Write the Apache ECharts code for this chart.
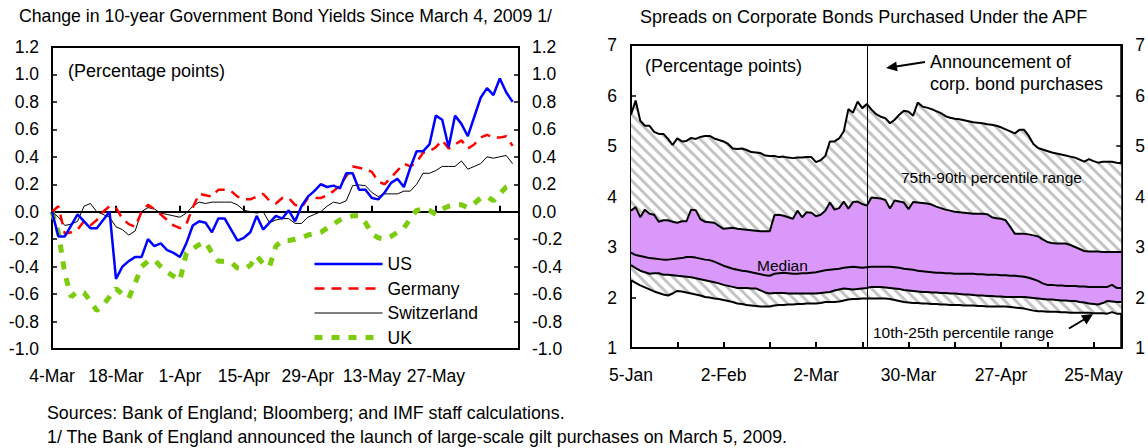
<!DOCTYPE html>
<html>
<head>
<meta charset="utf-8">
<script src="https://cdn.jsdelivr.net/npm/echarts@6.0.0/dist/echarts.min.js"></script>
<style>
html,body{margin:0;padding:0;background:#fff;}
#chart{width:1148px;height:448px;}
</style>
</head>
<body>
<div id="chart"></div>
<script>
// ---------- DATA ----------
const leftTickLabels = ['4-Mar','18-Mar','1-Apr','15-Apr','29-Apr','13-May','27-May'];
const rightTickLabels = ['5-Jan','2-Feb','2-Mar','30-Mar','27-Apr','25-May'];

const usValues = [0,-0.18,-0.18,-0.10,-0.02,-0.07,-0.12,-0.12,-0.06,0.00,
 -0.49,-0.40,-0.36,-0.33,-0.33,-0.20,-0.25,-0.23,-0.28,-0.30,
 -0.33,-0.23,-0.10,-0.07,-0.08,-0.15,-0.05,-0.05,-0.13,-0.21,
 -0.19,-0.15,-0.03,-0.13,-0.08,-0.03,-0.05,0.01,-0.07,0.04,
 0.11,0.15,0.20,0.18,0.19,0.17,0.28,0.28,0.16,0.16,
 0.10,0.09,0.14,0.21,0.24,0.18,0.32,0.44,0.44,0.49,
 0.70,0.67,0.47,0.70,0.64,0.55,0.69,0.83,0.90,0.85,
 0.97,0.87,0.80];
const germanyValues = [0.0,0.04,-0.16,-0.15,-0.13,-0.07,-0.10,-0.06,0.00,0.04,
 0.03,-0.05,-0.09,-0.11,0.0,0.05,0.02,-0.02,-0.06,-0.10,
 -0.12,-0.09,0.03,0.13,0.12,0.11,0.16,0.16,0.15,0.11,
 0.09,0.09,0.11,0.13,0.08,0.06,0.10,0.10,0.05,0.03,
 0.10,0.10,0.10,0.12,0.15,0.19,0.26,0.33,0.32,0.31,
 0.29,0.22,0.20,0.25,0.30,0.35,0.33,0.36,0.43,0.44,
 0.47,0.52,0.46,0.49,0.52,0.46,0.49,0.54,0.56,0.54,
 0.54,0.55,0.48];
const switzerlandValues = [0,-0.04,-0.10,-0.09,-0.07,0.04,0.06,0.0,-0.02,-0.04,
 -0.11,-0.13,-0.17,-0.14,0.0,0.03,0.02,-0.01,-0.02,-0.03,
 -0.04,-0.01,0.04,0.07,0.06,0.07,0.07,0.07,0.07,0.05,
 0.01,0.0,-0.01,0.0,-0.08,-0.06,-0.05,-0.05,-0.085,-0.085,
 -0.04,-0.02,0.0,0.04,0.07,0.06,0.08,0.19,0.195,0.19,
 0.14,0.11,0.13,0.13,0.13,0.15,0.15,0.20,0.28,0.28,
 0.30,0.33,0.33,0.33,0.37,0.31,0.33,0.35,0.40,0.39,
 0.40,0.41,0.35];
const ukValues = [0.0,-0.15,-0.45,-0.62,-0.58,-0.59,-0.65,-0.72,-0.68,-0.62,
 -0.56,-0.60,-0.63,-0.52,-0.40,-0.36,-0.35,-0.40,-0.44,-0.47,
 -0.50,-0.30,-0.27,-0.24,-0.22,-0.30,-0.36,-0.36,-0.37,-0.41,
 -0.42,-0.39,-0.32,-0.38,-0.40,-0.25,-0.21,-0.21,-0.20,-0.19,
 -0.17,-0.16,-0.15,-0.12,-0.09,-0.06,-0.04,-0.03,-0.03,-0.08,
 -0.16,-0.19,-0.20,-0.18,-0.15,-0.12,-0.05,0.01,0.02,0.01,
 -0.02,0.02,0.04,0.05,0.05,0.03,0.06,0.10,0.11,0.08,
 0.13,0.18,0.20];

const p90 = [5.62,5.90,5.50,5.40,5.40,5.28,5.24,5.24,5.14,5.02,
 5.15,5.09,5.10,5.16,5.14,5.18,5.20,5.20,5.15,5.12,
 5.09,5.04,4.95,4.94,4.95,4.92,4.88,4.87,4.86,4.81,
 4.80,4.80,4.78,4.79,4.77,4.76,4.77,4.77,4.78,4.78,
 4.68,4.72,4.80,5.09,5.09,5.15,5.29,5.73,5.66,5.88,
 5.75,5.83,5.72,5.63,5.58,5.55,5.45,5.52,5.62,5.70,
 5.68,5.60,5.86,5.78,5.76,5.73,5.69,5.65,5.59,5.56,
 5.54,5.53,5.51,5.49,5.47,5.46,5.45,5.43,5.42,5.40,
 5.37,5.33,5.29,5.25,5.32,5.32,5.20,5.04,4.96,4.93,
 4.90,4.87,4.85,4.83,4.81,4.79,4.77,4.73,4.69,4.74,
 4.70,4.67,4.69,4.69,4.69,4.67,4.66];
const p75 = [3.72,3.79,3.59,3.74,3.66,3.64,3.50,3.53,3.53,3.50,
 3.48,3.51,3.51,3.74,3.73,3.55,3.50,3.49,3.48,3.42,
 3.36,3.37,3.38,3.36,3.35,3.34,3.33,3.32,3.31,3.31,
 3.31,3.63,3.64,3.62,3.59,3.56,3.72,3.59,3.69,3.68,
 3.61,3.64,3.72,3.88,3.74,3.77,3.90,3.76,3.89,3.90,
 3.85,3.82,3.98,3.97,3.96,3.93,3.76,3.92,3.90,3.88,
 3.75,3.89,3.88,3.87,3.86,3.84,3.80,3.77,3.74,3.72,
 3.70,3.69,3.68,3.67,3.66,3.66,3.66,3.65,3.59,3.57,
 3.56,3.53,3.40,3.26,3.26,3.26,3.25,3.23,3.21,3.15,
 3.10,3.08,3.07,3.07,3.07,3.04,3.00,2.96,2.92,2.91,
 2.91,2.91,2.90,2.90,2.90,2.90,2.90];
const median = [2.89,2.84,2.82,2.80,2.78,2.77,2.76,2.75,2.75,2.76,
 2.77,2.78,2.80,2.80,2.79,2.77,2.75,2.74,2.71,2.67,
 2.63,2.60,2.57,2.55,2.53,2.52,2.50,2.48,2.46,2.44,
 2.43,2.47,2.48,2.49,2.48,2.47,2.47,2.48,2.48,2.49,
 2.50,2.52,2.54,2.55,2.56,2.57,2.59,2.60,2.61,2.60,
 2.59,2.60,2.61,2.61,2.61,2.61,2.61,2.60,2.59,2.57,
 2.56,2.55,2.53,2.52,2.51,2.50,2.49,2.49,2.48,2.48,
 2.47,2.47,2.47,2.47,2.47,2.46,2.46,2.45,2.45,2.45,
 2.44,2.44,2.43,2.43,2.42,2.41,2.39,2.36,2.33,2.28,
 2.25,2.25,2.24,2.24,2.23,2.23,2.23,2.22,2.22,2.21,
 2.21,2.21,2.21,2.21,2.25,2.19,2.19];
const p25 = [2.64,2.58,2.53,2.50,2.47,2.48,2.48,2.45,2.45,2.44,
 2.43,2.42,2.41,2.40,2.38,2.36,2.34,2.32,2.30,2.28,
 2.25,2.23,2.21,2.19,2.19,2.19,2.18,2.18,2.14,2.10,
 2.08,2.09,2.09,2.09,2.08,2.08,2.08,2.08,2.08,2.08,
 2.08,2.09,2.10,2.11,2.14,2.16,2.18,2.17,2.16,2.17,
 2.18,2.19,2.21,2.21,2.21,2.20,2.19,2.18,2.17,2.15,
 2.14,2.13,2.12,2.11,2.11,2.10,2.10,2.09,2.09,2.08,
 2.08,2.07,2.06,2.06,2.05,2.04,2.04,2.03,2.03,2.02,
 2.02,2.01,2.01,2.01,2.01,2.01,2.00,1.99,1.98,1.97,
 1.96,1.96,1.95,1.94,1.94,1.93,1.93,1.91,1.90,1.88,
 1.87,1.86,1.89,1.93,1.92,1.91,1.91];
const p10 = [2.34,2.29,2.24,2.20,2.16,2.12,2.09,2.06,2.04,2.08,
 2.13,2.12,2.10,2.08,2.06,2.04,2.01,2.00,1.98,1.97,
 1.95,1.93,1.91,1.88,1.87,1.85,1.84,1.83,1.82,1.82,
 1.82,1.84,1.85,1.85,1.86,1.86,1.87,1.87,1.88,1.88,
 1.88,1.89,1.91,1.91,1.91,1.92,1.94,1.96,1.97,1.97,
 1.98,1.98,1.98,1.98,1.98,1.98,1.97,1.95,1.93,1.91,
 1.90,1.89,1.89,1.88,1.88,1.87,1.87,1.86,1.86,1.85,
 1.85,1.85,1.84,1.84,1.84,1.83,1.83,1.82,1.82,1.82,
 1.82,1.82,1.81,1.80,1.79,1.78,1.76,1.74,1.73,1.73,
 1.72,1.72,1.72,1.71,1.71,1.70,1.70,1.70,1.70,1.70,
 1.69,1.69,1.69,1.68,1.71,1.68,1.68];
const announcementDate = '17-Mar';

// ---------- CATEGORIES (business days) ----------
const MONTHS = ['Jan','Feb','Mar','Apr','May','Jun','Jul','Aug','Sep','Oct','Nov','Dec'];
function businessDays(y, m, d, n) {
  const out = [];
  const dt = new Date(Date.UTC(y, m, d));
  while (out.length < n) {
    const w = dt.getUTCDay();
    if (w !== 0 && w !== 6) out.push(dt.getUTCDate() + '-' + MONTHS[dt.getUTCMonth()]);
    dt.setUTCDate(dt.getUTCDate() + 1);
  }
  return out;
}
const leftCategories = businessDays(2009, 2, 4, 74);
const rightCategories = businessDays(2009, 0, 5, 107);

// ---------- STYLE ----------
const FONT = '"Liberation Sans", Arial, Helvetica, sans-serif';
const PURPLE = '#DA98FB';

function hatch() {
  const s = 11;
  const c = document.createElement('canvas');
  c.width = s; c.height = s;
  const g = c.getContext('2d');
  g.fillStyle = '#ffffff';
  g.fillRect(0, 0, s, s);
  g.strokeStyle = '#c4c4c4';
  g.lineWidth = 3;
  g.beginPath();
  g.moveTo(-3, -3); g.lineTo(s + 3, s + 3);
  g.moveTo(-3, s - 3); g.lineTo(3, s + 3);
  g.moveTo(s - 3, -3); g.lineTo(s + 3, 3);
  g.stroke();
  return { image: c, repeat: 'repeat' };
}
const HATCH = hatch();

const diff = (a, b) => a.map((v, i) => +(v - b[i]).toFixed(3));

const axisLabelStyle = { color: '#000', fontSize: 17.5, fontFamily: FONT };
const blackLine = { show: true, lineStyle: { color: '#000', width: 2 } };

function fmt1(v) { return Math.abs(v) < 1e-9 ? '0.0' : Number(v).toFixed(1); }

const chart = echarts.init(document.getElementById('chart'), null, { renderer: 'svg' });

const option = {
  animation: false,
  backgroundColor: '#fff',
  textStyle: { fontFamily: FONT, color: '#000' },
  grid: [
    { left: 52, right: 629, top: 47, bottom: 99, show: true, borderColor: '#000', borderWidth: 2, backgroundColor: 'transparent' },
    { left: 631, right: 25, top: 45, bottom: 100, show: true, borderColor: '#000', borderWidth: 2, backgroundColor: 'transparent' }
  ],
  xAxis: [
    { type: 'category', gridIndex: 0, data: leftCategories, boundaryGap: false, position: 'bottom',
      axisLine: { show: false, onZero: false }, axisTick: { show: false }, splitLine: { show: false },
      axisLabel: Object.assign({ interval: 9, margin: 18, formatter: v => leftTickLabels.indexOf(v) >= 0 ? v : '' }, axisLabelStyle) },
    { type: 'category', gridIndex: 0, data: leftCategories, boundaryGap: false, position: 'top',
      axisLine: { show: true, onZero: true, lineStyle: { color: '#000', width: 2 } },
      axisTick: { show: true, interval: 9, length: 6, lineStyle: { color: '#000', width: 2 } },
      axisLabel: { show: false }, splitLine: { show: false } },
    { type: 'category', gridIndex: 1, data: rightCategories, boundaryGap: false, position: 'bottom',
      axisLine: blackLine, axisTick: { show: true, inside: true, interval: 9, length: 6, lineStyle: { color: '#000', width: 2 } },
      splitLine: { show: false },
      axisLabel: Object.assign({ interval: 9, margin: 18, formatter: v => rightTickLabels.indexOf(v) >= 0 ? v : '' }, axisLabelStyle) }
  ],
  yAxis: [
    { type: 'value', gridIndex: 0, position: 'left', min: -1, max: 1.2, interval: 0.2,
      axisLine: blackLine, axisTick: { show: true, inside: true, length: 5, lineStyle: { color: '#000', width: 1.5 } },
      splitLine: { show: false }, axisLabel: Object.assign({ margin: 13, formatter: fmt1 }, axisLabelStyle) },
    { type: 'value', gridIndex: 0, position: 'right', min: -1, max: 1.2, interval: 0.2,
      axisLine: blackLine, axisTick: { show: true, inside: true, length: 5, lineStyle: { color: '#000', width: 1.5 } },
      splitLine: { show: false }, axisLabel: Object.assign({ margin: 13, formatter: fmt1 }, axisLabelStyle) },
    { type: 'value', gridIndex: 1, position: 'left', min: 1, max: 7, interval: 1,
      axisLine: blackLine, axisTick: { show: true, inside: true, length: 5, lineStyle: { color: '#000', width: 1.5 } },
      splitLine: { show: false }, axisLabel: Object.assign({ margin: 14 }, axisLabelStyle) },
    { type: 'value', gridIndex: 1, position: 'right', min: 1, max: 7, interval: 1,
      axisLine: blackLine, axisTick: { show: true, inside: true, length: 5, lineStyle: { color: '#000', width: 1.5 } },
      splitLine: { show: false }, axisLabel: Object.assign({ margin: 14 }, axisLabelStyle) }
  ],
  legend: {
    data: ['US', 'Germany', 'Switzerland', 'UK'],
    orient: 'vertical', left: 312, top: 255, itemWidth: 68, itemHeight: 14, itemGap: 6.5,
    itemStyle: { opacity: 0 },
    lineStyle: { width: 'inherit' },
    textStyle: { fontSize: 17.5, color: '#000', fontFamily: FONT }, padding: 0
  },
  series: [
    { name: 'Switzerland', type: 'line', xAxisIndex: 0, yAxisIndex: 0, data: switzerlandValues, symbol: 'none',
      lineStyle: { color: '#000', width: 1 }, itemStyle: { color: '#000' }, z: 3 },
    { name: 'UK', type: 'line', xAxisIndex: 0, yAxisIndex: 0, data: ukValues, symbol: 'none',
      lineStyle: { color: '#7CCB0C', width: 5, type: [8, 9], cap: 'butt' }, itemStyle: { color: '#7CCB0C' }, z: 2 },
    { name: 'Germany', type: 'line', xAxisIndex: 0, yAxisIndex: 0, data: germanyValues, symbol: 'none',
      lineStyle: { color: '#FF0000', width: 2.5, type: [10, 7] }, itemStyle: { color: '#FF0000' }, z: 4 },
    { name: 'US', type: 'line', xAxisIndex: 0, yAxisIndex: 0, data: usValues, symbol: 'none',
      lineStyle: { color: '#0000FF', width: 2.5 }, itemStyle: { color: '#0000FF' }, z: 5 },

    // right chart: bands (stacked)
    { name: 'base', type: 'line', xAxisIndex: 2, yAxisIndex: 2, stack: 'band', data: p10, symbol: 'none',
      lineStyle: { width: 0, opacity: 0 }, silent: true, z: 1 },
    { name: 'band10_25', type: 'line', xAxisIndex: 2, yAxisIndex: 2, stack: 'band', data: diff(p25, p10), symbol: 'none',
      lineStyle: { width: 0, opacity: 0 }, areaStyle: { color: HATCH, opacity: 1 }, silent: true, z: 1 },
    { name: 'band25_75', type: 'line', xAxisIndex: 2, yAxisIndex: 2, stack: 'band', data: diff(p75, p25), symbol: 'none',
      lineStyle: { width: 0, opacity: 0 }, areaStyle: { color: PURPLE, opacity: 1 }, silent: true, z: 1 },
    { name: 'band75_90', type: 'line', xAxisIndex: 2, yAxisIndex: 2, stack: 'band', data: diff(p90, p75), symbol: 'none',
      lineStyle: { width: 0, opacity: 0 }, areaStyle: { color: HATCH, opacity: 1 }, silent: true, z: 1 },

    { name: '90th', type: 'line', xAxisIndex: 2, yAxisIndex: 2, data: p90, symbol: 'none',
      lineStyle: { color: '#000', width: 2 }, z: 3,
      markLine: { silent: true, symbol: 'none', label: { show: false },
        lineStyle: { color: '#000', width: 1, type: 'solid' }, data: [{ xAxis: announcementDate }] } },
    { name: '75th', type: 'line', xAxisIndex: 2, yAxisIndex: 2, data: p75, symbol: 'none', lineStyle: { color: '#000', width: 2 }, z: 3 },
    { name: 'Median', type: 'line', xAxisIndex: 2, yAxisIndex: 2, data: median, symbol: 'none', lineStyle: { color: '#000', width: 2 }, z: 3 },
    { name: '25th', type: 'line', xAxisIndex: 2, yAxisIndex: 2, data: p25, symbol: 'none', lineStyle: { color: '#000', width: 2 }, z: 3 },
    { name: '10th', type: 'line', xAxisIndex: 2, yAxisIndex: 2, data: p10, symbol: 'none', lineStyle: { color: '#000', width: 2 }, z: 3 }
  ],
  graphic: [
    { type: 'text', left: 19, top: 7, style: { text: 'Change in 10-year Government Bond Yields Since March 4, 2009 1/', font: '17.7px ' + FONT, fill: '#000' } },
    { type: 'text', left: 640, top: 8, style: { text: 'Spreads on Corporate Bonds Purchased Under the APF', font: '18px ' + FONT, fill: '#000' } },
    { type: 'text', left: 68, top: 62, z: 10, style: { text: '(Percentage points)', font: '18px ' + FONT, fill: '#000' } },
    { type: 'text', left: 645, top: 57, z: 10, style: { text: '(Percentage points)', font: '18px ' + FONT, fill: '#000' } },
    { type: 'text', left: 930, top: 53, z: 10, style: { text: 'Announcement of', font: '18px ' + FONT, fill: '#000' } },
    { type: 'text', left: 930, top: 75, z: 10, style: { text: 'corp. bond purchases', font: '18px ' + FONT, fill: '#000' } },
    { type: 'text', left: 901, top: 169, z: 10, style: { text: '75th-90th percentile range', font: '15.5px ' + FONT, fill: '#000' } },
    { type: 'text', left: 757, top: 257, z: 10, style: { text: 'Median', font: '15.5px ' + FONT, fill: '#000' } },
    { type: 'text', left: 873, top: 324, z: 10, style: { text: '10th-25th percentile range', font: '15.5px ' + FONT, fill: '#000' } },
    { type: 'line', z: 10, shape: { x1: 925, y1: 62, x2: 896, y2: 66.5 }, style: { stroke: '#000', lineWidth: 2 } },
    { type: 'polygon', z: 10, shape: { points: [[886, 68], [897.6, 71.2], [896.2, 61.6]] }, style: { fill: '#000' } },
    { type: 'line', z: 10, shape: { x1: 1069, y1: 328.5, x2: 1084, y2: 319.5 }, style: { stroke: '#000', lineWidth: 2 } },
    { type: 'polygon', z: 10, shape: { points: [[1093, 314], [1086.5, 324.5], [1080.8, 315.2]] }, style: { fill: '#000' } },
    { type: 'text', left: 47, top: 404, style: { text: 'Sources: Bank of England; Bloomberg; and IMF staff calculations.', font: '17.8px ' + FONT, fill: '#000' } },
    { type: 'text', left: 47, top: 428, style: { text: '1/ The Bank of England announced the launch of large-scale gilt purchases on March 5, 2009.', font: '17.8px ' + FONT, fill: '#000' } }
  ]
};
chart.setOption(option);
</script>
</body>
</html>
